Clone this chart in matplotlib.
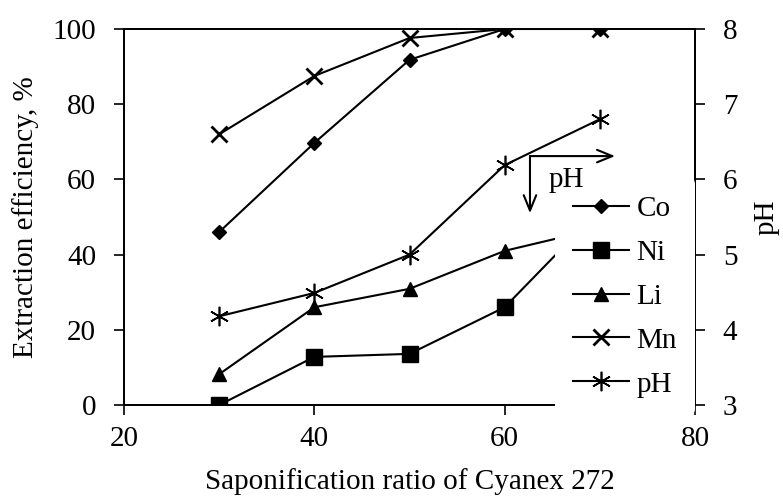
import matplotlib
matplotlib.use("Agg")
import matplotlib.pyplot as plt
from matplotlib.lines import Line2D

plt.rcParams['font.family'] = ['Liberation Serif', 'DejaVu Serif']

# saponification ratio (%)
ratio = [30, 40, 50, 60, 70]

# extraction efficiency (%)
co = [46, 69.7, 91.8, 100, 100]
ni = [0, 12.8, 13.6, 26, 52]
li = [8.2, 26, 30.9, 41, 47]
mn = [72, 87.5, 97.6, 100, 100]

# equilibrium pH
ph = [4.18, 4.49, 5.0, 6.19, 6.8]

fs = 21

fig = plt.figure(figsize=(7.83, 4.98), dpi=100)
ax = fig.add_axes([0.1584, 0.1867, 0.8876 - 0.1584, 0.9418 - 0.1867])
ax2 = ax.twinx()

kw = dict(color='black', lw=1.5)
ax.plot(ratio, co, marker='D', ms=7.5, **kw)
ax.plot(ratio, ni, marker='s', ms=11, **kw)
ax.plot(ratio, li, marker='^', ms=10, **kw)
ax.plot(ratio, mn, marker='x', ms=11, mew=2, **kw)
ax2.plot(ratio, ph, marker=(6, 2, 0), ms=14, mew=1.2, **kw)

ax.set_xlim(20, 80)
ax.set_ylim(0, 100)
ax2.set_ylim(3, 8)
ax.set_xticks([20, 40, 60, 80])
ax.set_yticks([0, 20, 40, 60, 80, 100])
ax2.set_yticks([3, 4, 5, 6, 7, 8])

for a in (ax, ax2):
    a.tick_params(direction='out', length=7, width=1.2, labelsize=fs, colors='black')
    for s in a.spines.values():
        s.set_linewidth(1.3)
ax.tick_params(axis='x', pad=8)
ax.tick_params(axis='y', pad=13)
ax2.tick_params(axis='y', pad=13)

ax.set_xlabel('Saponification ratio of Cyanex 272', fontsize=fs, labelpad=12)
ax.set_ylabel('Extraction efficiency, %', fontsize=fs, labelpad=10)
ax2.set_ylabel('pH', fontsize=fs, labelpad=12)

# arrow hint: pH curve belongs to the right axis
arr = dict(arrowstyle='->,head_length=1.1,head_width=0.45', lw=1.5, color='black',
           shrinkA=0, shrinkB=0)
ax.annotate('', xy=(62.66, 51.0), xytext=(62.66, 66.2), arrowprops=arr)
ax.annotate('', xy=(71.6, 66.2), xytext=(62.66, 66.2), arrowprops=arr)
# drawn on ax2 above the legend box
ax2.text(66.5, 59.8, 'pH', fontsize=fs, ha='center', va='center',
         transform=ax.transData, zorder=10)

handles = [
    Line2D([], [], color='black', lw=1.5, marker='D', ms=7.5),
    Line2D([], [], color='black', lw=1.5, marker='s', ms=11),
    Line2D([], [], color='black', lw=1.5, marker='^', ms=10),
    Line2D([], [], color='black', lw=1.5, marker='x', ms=11, mew=2),
    Line2D([], [], color='black', lw=1.5, marker=(6, 2, 0), ms=14, mew=1.2),
]
leg = ax2.legend(handles, ['Co', 'Ni', 'Li', 'Mn', 'pH'], loc='upper left',
                 bbox_to_anchor=(555 / 783, 1 - 178 / 498),
                 bbox_transform=fig.transFigure, fontsize=fs, frameon=True,
                 handlelength=1.95, handletextpad=0.25, labelspacing=0.6,
                 borderpad=0.6, borderaxespad=0)
leg.get_frame().set_facecolor('white')
leg.get_frame().set_edgecolor('none')
leg.get_frame().set_alpha(1)
leg.set_zorder(5)

fig.savefig('out.png', dpi=100)
